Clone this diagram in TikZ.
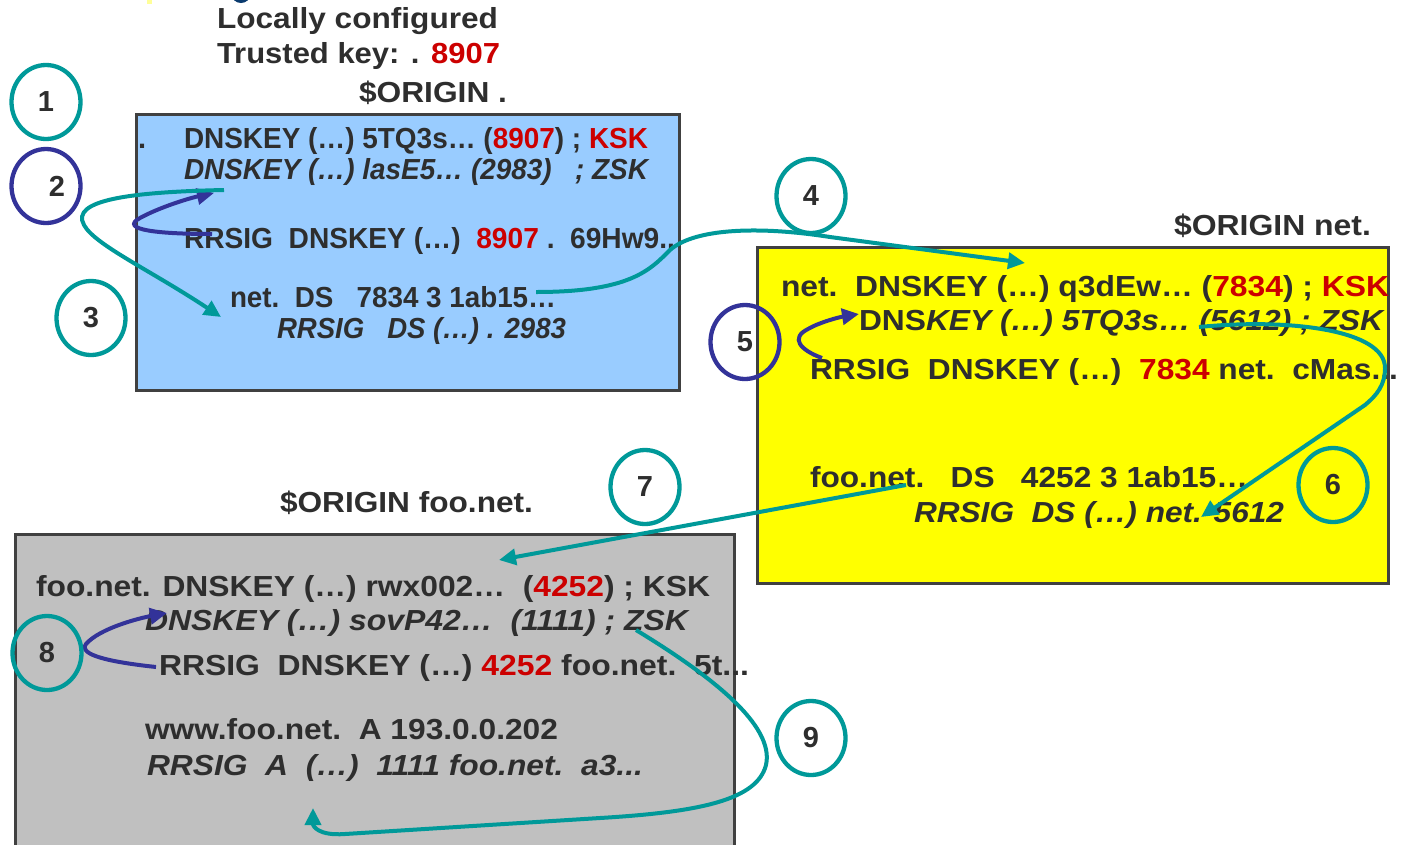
\documentclass[tikz,border=0pt]{standalone}
\usepackage{fontspec}
\setmainfont{Liberation Sans}
\usepackage{graphicx}
\usetikzlibrary{arrows.meta,shapes.geometric}
\definecolor{txt}{HTML}{2E2E2E}
\definecolor{rd}{HTML}{CC0000}
\definecolor{tealc}{HTML}{009999}
\definecolor{navyc}{HTML}{333399}
\definecolor{bluebox}{HTML}{99CCFF}
\definecolor{yelbox}{HTML}{FFFF00}
\definecolor{graybox}{HTML}{C0C0C0}
\definecolor{boxline}{HTML}{404040}
\definecolor{artnavy}{HTML}{0A3A6E}
\definecolor{artyel}{HTML}{FFFF99}
\newcommand{\fw}[2]{\resizebox{#1pt}{\height}{#2}}
\newcommand{\R}[1]{\textcolor{rd}{#1}}
\tikzset{
  txtline/.style={anchor=base west, inner sep=0pt, outer sep=0pt, text=txt,
    font=\fontsize{29}{34}\selectfont\bfseries},
  zonebox/.style={draw=boxline, line width=2.5pt, anchor=north west, inner sep=0pt},
  numc/.style={shape=ellipse, line width=4.3pt, minimum width=69pt, minimum height=74pt,
    inner sep=0pt, text=txt, font=\fontsize{29}{34}\selectfont\bfseries},
  conn/.style={line width=4pt, -{Triangle[length=17pt,width=16pt]}},
}
\begin{document}
\begin{tikzpicture}[x=1pt,y=-1pt]
\useasboundingbox (0,0) rectangle (1402,844);
\clip (0,0) rectangle (1402,844);
\fill[white] (0,0) rectangle (1402,844);
% small artefacts at the top edge
\fill[artyel] (147,0) rectangle (152,4);
\fill[artnavy] (241,-6) ellipse [x radius=9.5pt, y radius=9pt];

% zone boxes
\node[zonebox, fill=bluebox, minimum width=543pt, minimum height=276pt] (rootbox) at (135,113) {};
\node[zonebox, fill=yelbox, minimum width=631pt, minimum height=336pt] (netbox) at (756,246) {};
\node[zonebox, fill=graybox, minimum width=719pt, minimum height=330pt] (foobox) at (14,533) {};

% header texts
\node[txtline] (t1) at (217,28) {\fw{281}{Locally configured}};
\node[txtline] (t2) at (217,63) {\fw{283}{Trusted key: . \R{8907}}};
\node[txtline] (o1) at (359,102) {\fw{148}{\$ORIGIN .}};
\node[txtline] (o2) at (1174,235) {\fw{197}{\$ORIGIN net.}};
\node[txtline] (o3) at (280,512) {\fw{253}{\$ORIGIN foo.net.}};

% root zone
\node[txtline] (rdot) at (138,148) {.};
\node[txtline] (r1) at (184,148) {\fw{464}{DNSKEY (…) 5TQ3s… (\R{8907}) ; \R{KSK}}};
\node[txtline] (r2) at (184,179) {\fw{464}{\itshape DNSKEY (…) lasE5… (2983)\ \ \ ; ZSK}};
\node[txtline] (r3) at (184,248) {\fw{491}{RRSIG\ \ DNSKEY (…)\ \ \R{8907} .\ \ 69Hw9..}};
\node[txtline] (r4) at (230,307) {\fw{326}{net.\ \ DS\ \ \ 7834 3 1ab15…}};
\node[txtline] (r5) at (277,338) {\fw{289}{\itshape RRSIG\ \ \ DS (…) . 2983}};

% net zone
\node[txtline] (n1) at (781,296) {\fw{608}{net.\ \ DNSKEY (…) q3dEw… (\R{7834}) ; \R{KSK}}};
\node[txtline] (n2) at (859,330) {\fw{526}{DNS\textit{KEY (…) 5TQ3s… (5612) ; ZSK}}};
\node[txtline] (n3) at (810,379) {\fw{588}{RRSIG\ \ DNSKEY (…)\ \ \R{7834} net.\ \ cMas...}};
\node[txtline] (n4) at (810,487) {\fw{438}{foo.net.\ \ \ DS\ \ \ 4252 3 1ab15…}};
\node[txtline] (n5) at (914,522) {\fw{370}{\itshape RRSIG\ \ DS (…) net. 5612}};

% foo.net zone
\node[txtline] (f1) at (36,596) {\fw{674}{foo.net. DNSKEY (…) rwx002…\ \ (\R{4252}) ; KSK}};
\node[txtline] (f2) at (145,630) {\fw{543}{\itshape DNSKEY (…) sovP42…\ \ (1111) ; ZSK}};
\node[txtline] (f3) at (159,675) {\fw{590}{RRSIG\ \ DNSKEY (…) \R{4252} foo.net.\ \ 5t...}};
\node[txtline] (f4) at (145,739) {\fw{413}{www.foo.net.\ \ A 193.0.0.202}};
\node[txtline] (f5) at (147,775) {\fw{496}{\itshape RRSIG\ \ A\ \ (…)\ \ 1111 foo.net.\ \ a3...}};

% connector end points
\coordinate (a2s) at (212,234); \coordinate (a2e) at (214,193);
\coordinate (a3s) at (224,190); \coordinate (a3e) at (221,317);
\coordinate (a4s) at (536,292); \coordinate (a4e) at (1025,263);
\coordinate (a5s) at (822,358); \coordinate (a5e) at (859,314);
\coordinate (a6s) at (1199,327); \coordinate (a6e) at (1201,517);
\coordinate (a7s) at (906,485); \coordinate (a7e) at (499,560);
\coordinate (a8s) at (156,667); \coordinate (a8e) at (167,613);
\coordinate (a9s) at (636,630); \coordinate (a9e) at (313,808);

% connectors
\draw[conn, navyc] (a2s) .. controls (160,234) and (118,230) .. (140,218) .. controls (160,207) and (190,198) .. (a2e);
\draw[conn, tealc] (a3s) .. controls (130,192) and (70,200) .. (84,225) .. controls (95,245) and (150,270) .. (a3e);
\draw[conn, tealc] (a4s) .. controls (630,292) and (650,270) .. (670,250) .. controls (695,228) and (760,226) .. (830,237) -- (a4e);
\draw[conn, navyc] (a5s) .. controls (800,350) and (790,338) .. (808,329) .. controls (820,322) and (840,317) .. (a5e);
\draw[conn, tealc] (a6s) .. controls (1290,318) and (1385,330) .. (1385,368) .. controls (1385,385) and (1377,395) .. (1365,405) -- (a6e);
\draw[conn, tealc] (a7s) -- (a7e);
\draw[conn, navyc] (a8s) .. controls (110,662) and (78,655) .. (86,644) .. controls (100,628) and (140,618) .. (a8e);
\draw[conn, tealc] (a9s) .. controls (710,675) and (775,725) .. (766,765) .. controls (757,800) and (700,812) .. (600,818) -- (345,834) .. controls (318,836) and (313,826) .. (a9e);

% numbered circles
\node[numc, draw=tealc] (c1) at (46,102) {1};
\node[numc, draw=navyc] (c2) at (46,186) {\hspace*{22pt}2};
\node[numc, draw=tealc] (c3) at (91,318) {3};
\node[numc, draw=tealc] (c4) at (811,196) {4};
\node[numc, draw=navyc] (c5) at (745,342) {5};
\node[numc, draw=tealc] (c6) at (1333,485) {6};
\node[numc, draw=tealc] (c7) at (645,487) {7};
\node[numc, draw=tealc] (c8) at (47,653) {8};
\node[numc, draw=tealc] (c9) at (811,738) {9};
\end{tikzpicture}
\end{document}
